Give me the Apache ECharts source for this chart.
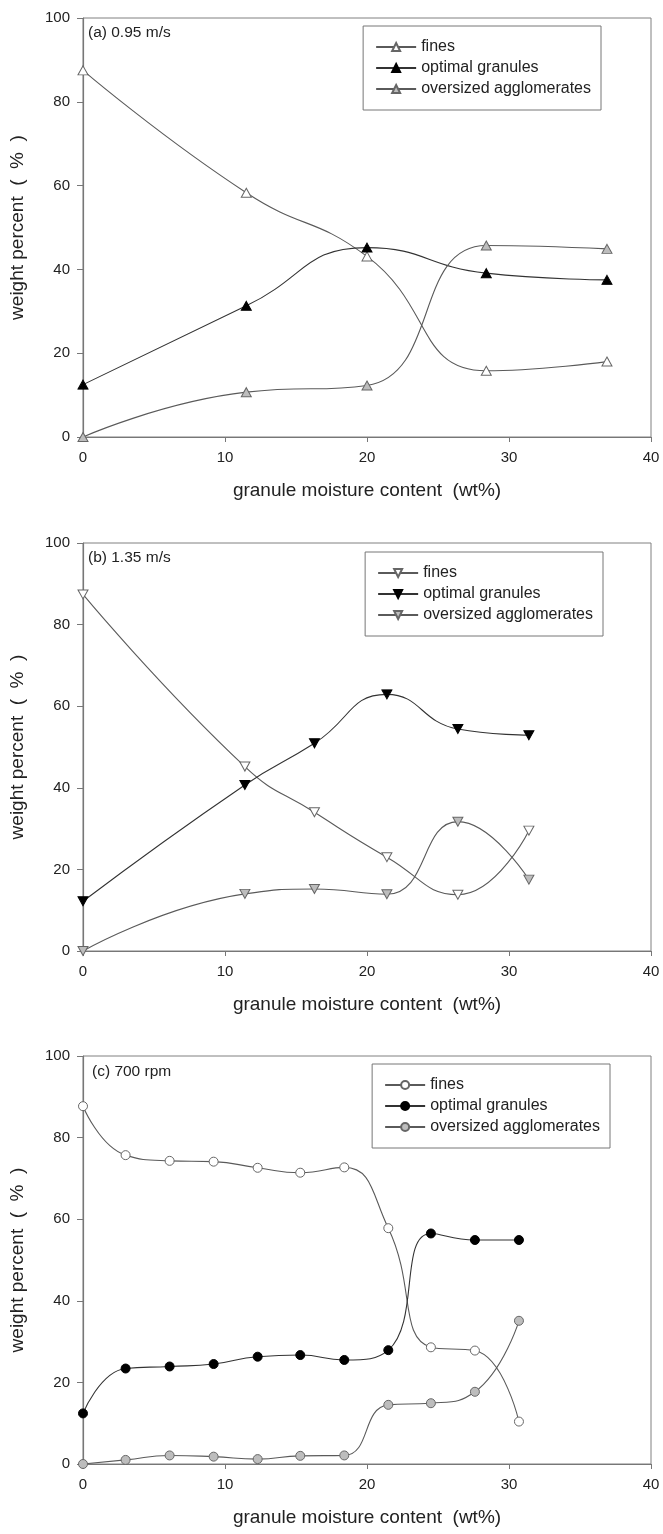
<!DOCTYPE html>
<html>
<head>
<meta charset="utf-8">
<script src="https://cdn.jsdelivr.net/npm/echarts@6/dist/echarts.min.js"></script>
<style>
  html, body { margin: 0; padding: 0; background: #fff; }
  .panel { position: absolute; left: 0; width: 663px; }
</style>
</head>
<body>
<div id="pa" class="panel" style="top:0;height:505px"></div>
<div id="pb" class="panel" style="top:505px;height:515px"></div>
<div id="pc" class="panel" style="top:1020px;height:514px"></div>
<script>
// series names and axis texts
var seriesNames = ['fines', 'optimal granules', 'oversized agglomerates'];
var xTitle = 'granule moisture content  (wt%)';
var yTitle = 'weight percent  (  %  )';

// (a) 0.95 m/s
var xA = [0, 11.5, 20.0, 28.4, 36.9];
var finesA = [87.5, 58.3, 43.1, 15.8, 18.0];
var optimalA = [12.5, 31.3, 45.2, 39.1, 37.5];
var oversizedA = [0, 10.7, 12.3, 45.7, 44.9];

// (b) 1.35 m/s
var xB = [0, 11.4, 16.3, 21.4, 26.4, 31.4];
var finesB = [87.4, 45.2, 34.0, 23.0, 13.8, 29.5];
var optimalB = [12.2, 40.7, 50.9, 62.9, 54.4, 52.9];
var oversizedB = [0, 14.0, 15.2, 13.9, 31.7, 17.5];

// (c) 700 rpm
var xC = [0, 3.0, 6.1, 9.2, 12.3, 15.3, 18.4, 21.5, 24.5, 27.6, 30.7];
var finesC = [87.7, 75.7, 74.3, 74.1, 72.6, 71.4, 72.7, 57.8, 28.6, 27.8, 10.4];
var optimalC = [12.4, 23.4, 23.9, 24.5, 26.3, 26.7, 25.5, 27.9, 56.5, 54.9, 54.9];
var oversizedC = [0, 1.0, 2.1, 1.8, 1.2, 2.0, 2.1, 14.5, 14.9, 17.7, 35.1];

var FONT = 'Liberation Sans, Arial, sans-serif';
var fills = ['#ffffff', '#000000', '#bdbdbd'];

function pairs(xs, ys) {
    return xs.map(function (x, i) { return [x, ys[i]]; });
}

function makePanel(id, cfg) {
    var chart = echarts.init(document.getElementById(id));
    var series = cfg.values.map(function (vals, i) {
        return {
            name: seriesNames[i],
            type: 'line',
            smooth: 0.5,
            data: pairs(cfg.x, vals),
            symbol: cfg.symbol,
            symbolSize: cfg.symbolSize,
            symbolRotate: cfg.rotate || 0,
            lineStyle: { color: i == 1 ? '#333' : '#5a5a5a', width: 1.1 },
            itemStyle: { color: fills[i], borderColor: i == 1 ? '#000' : '#666', borderWidth: 1 },
            emphasis: { disabled: true },
            animation: false
        };
    });
    var option = {
        animation: false,
        title: {
            text: cfg.label,
            left: cfg.labelLeft,
            top: cfg.labelTop,
            padding: 0,
            textStyle: { fontFamily: FONT, fontSize: 15.5, fontWeight: 'normal', color: '#222' }
        },
        legend: {
            orient: 'vertical',
            right: cfg.legendRight,
            top: cfg.legendTop,
            data: seriesNames,
            itemWidth: 40,
            itemHeight: 10,
            itemGap: 5,
            padding: [13, 10, 13, 12],
            borderColor: '#777',
            borderWidth: 1,
            borderRadius: 0,
            selectedMode: false,
            textStyle: { fontFamily: FONT, fontSize: 16, color: '#222', lineHeight: 15 }
        },
        grid: {
            left: 83, right: 12, top: cfg.gridTop, height: cfg.gridHeight,
            show: true, borderColor: '#808080', borderWidth: 1
        },
        xAxis: {
            type: 'value', min: 0, max: 40, interval: 10,
            name: xTitle, nameLocation: 'middle', nameGap: 44,
            nameTextStyle: { fontFamily: FONT, fontSize: 19, color: '#222' },
            axisLine: { lineStyle: { color: '#777', width: 1.2 } },
            axisTick: { length: 5, lineStyle: { color: '#777' } },
            axisLabel: { margin: 13, fontFamily: FONT, fontSize: 15, color: '#222' },
            splitLine: { show: false }
        },
        yAxis: {
            type: 'value', min: 0, max: 100, interval: 20,
            name: yTitle, nameLocation: 'middle', nameGap: 56,
            nameTextStyle: { fontFamily: FONT, fontSize: 19, color: '#222' },
            axisLine: { show: true, lineStyle: { color: '#777', width: 1.2 } },
            axisTick: { show: true, length: 6, lineStyle: { color: '#777' } },
            axisLabel: { margin: 13, fontFamily: FONT, fontSize: 15, color: '#222' },
            splitLine: { show: false }
        },
        series: series
    };
    chart.setOption(option);
    return chart;
}

makePanel('pa', {
    x: xA, values: [finesA, optimalA, oversizedA],
    symbol: 'triangle', symbolSize: [10, 9],
    label: '(a) 0.95 m/s', labelLeft: 88, labelTop: 25,
    legendRight: 62, legendTop: 26,
    gridTop: 18, gridHeight: 419
});

makePanel('pb', {
    x: xB, values: [finesB, optimalB, oversizedB],
    symbol: 'triangle', symbolSize: [10, 9], rotate: 180,
    label: '(b) 1.35 m/s', labelLeft: 88, labelTop: 45,
    legendRight: 60, legendTop: 47,
    gridTop: 38, gridHeight: 408
});

makePanel('pc', {
    x: xC, values: [finesC, optimalC, oversizedC],
    symbol: 'circle', symbolSize: 9,
    label: '(c) 700 rpm', labelLeft: 92, labelTop: 44,
    legendRight: 53, legendTop: 44,
    gridTop: 36, gridHeight: 408
});
</script>
</body>
</html>
